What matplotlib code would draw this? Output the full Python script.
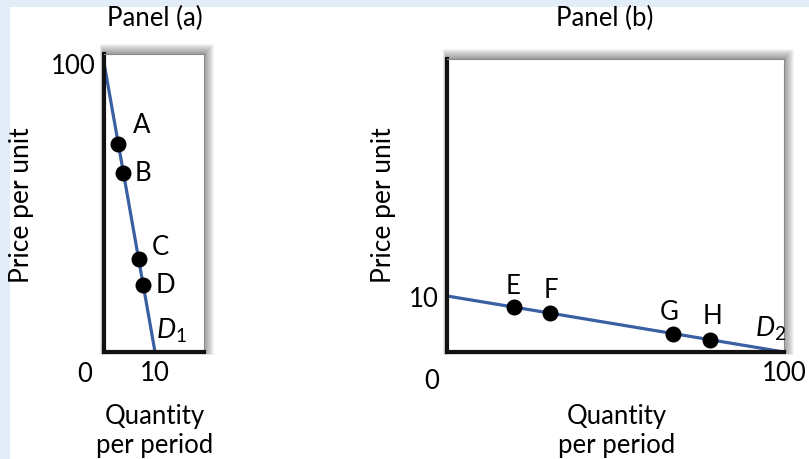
import matplotlib
matplotlib.use("Agg")
import matplotlib.pyplot as plt
from matplotlib.patches import Rectangle

plt.rcParams["font.family"] = ["Lato", "DejaVu Sans"]
plt.rcParams["mathtext.fontset"] = "custom"
plt.rcParams["mathtext.it"] = "Lato:italic"
plt.rcParams["mathtext.rm"] = "Lato"

# Panel (a): steep demand curve D1
qty_a = [0, 10]
price_a = [100, 0]
pts_a_labels = ["A", "B", "C", "D"]
pts_a_q = [2.8, 3.8, 6.8, 7.7]
pts_a_p = [72, 62, 32, 23]

# Panel (b): flat demand curve D2
qty_b = [0, 100]
price_b = [10, 0]
pts_b_labels = ["E", "F", "G", "H"]
pts_b_q = [20, 30.5, 67, 78]
pts_b_p = [8.0, 6.95, 3.3, 2.2]

LINE_BLUE = "#3a5fa2"
BG = "#e2edf7"
FS = 18.5
W, H = 809, 460

fig = plt.figure(figsize=(W / 100, H / 100), dpi=100, facecolor=BG)
fig.patches.append(Rectangle((10 / W, 0), 1, 1 - 8 / H, transform=fig.transFigure,
                             facecolor="white", edgecolor="none", zorder=-10))


def ftext(x, y, s, size=FS, **kw):
    # place text by pixel position from the top-left corner
    fig.text(x / W, 1 - y / H, s, fontsize=size, ha="center", va="center", **kw)


def shadow(ax):
    # soft grey glow around the top and right edges of the panel
    x0, y0, w, h = ax.get_position().bounds
    for i in range(10):
        d = i + 1
        fig.patches.append(Rectangle((x0 - 0.4 * d / W, y0 - 0.3 * d / H),
                                     w + 1.4 * d / W, h + 1.3 * d / H,
                                     transform=fig.transFigure, facecolor="black",
                                     edgecolor="none", alpha=0.045, zorder=-5))


def style(ax):
    ax.set_facecolor("white")
    for s in ["top", "right"]:
        ax.spines[s].set_color("#8a8a8a")
        ax.spines[s].set_linewidth(0.8)
    for s in ["left", "bottom"]:
        ax.spines[s].set_color("#111111")
        ax.spines[s].set_linewidth(3)
    ax.tick_params(length=0, labelsize=FS, pad=6)


# ---- Panel (a)
ax1 = fig.add_axes([104 / W, 107 / H, 100 / W, 298 / H])
shadow(ax1)
style(ax1)
ax1.set_xlim(0, 19.6)
ax1.set_ylim(0, 103)
ax1.plot(qty_a, price_a, color=LINE_BLUE, lw=2.3, solid_capstyle="butt", clip_on=False)
ax1.plot(pts_a_q, pts_a_p, "o", color="black", ms=10.5, zorder=5)
offs_a = [(2.8, 6.5), (2.2, 0), (2.5, 4.5), (2.4, 0.3)]
for lab, q, p, (dx, dy) in zip(pts_a_labels, pts_a_q, pts_a_p, offs_a):
    ax1.text(q + dx, p + dy, lab, fontsize=FS, ha="left", va="center")
ax1.text(13.2, 7.8, "$D_1$", fontsize=FS + 1, ha="center", va="center")
ax1.set_xticks([10])
ax1.set_xticklabels(["10"])
ax1.set_yticks([100])
ax1.set_yticklabels(["100"])
ax1.text(-3.8, -7.5, "0", fontsize=FS, ha="center", va="center")

# ---- Panel (b)
ax2 = fig.add_axes([447 / W, 107 / H, 337 / W, 293 / H])
shadow(ax2)
style(ax2)
ax2.set_xlim(0, 100)
ax2.set_ylim(0, 52.3)
ax2.plot(qty_b, price_b, color=LINE_BLUE, lw=2.3, solid_capstyle="butt", clip_on=False)
ax2.plot(pts_b_q, pts_b_p, "o", color="black", ms=10.5, zorder=5)
offs_b = [(-0.5, 3.9), (0.2, 4.2), (-1.0, 4.0), (0.8, 4.4)]
for lab, q, p, (dx, dy) in zip(pts_b_labels, pts_b_q, pts_b_p, offs_b):
    ax2.text(q + dx, p + dy, lab, fontsize=FS, ha="center", va="center")
ax2.text(96, 4.3, "$D_2$", fontsize=FS + 1, ha="center", va="center")
ax2.set_xticks([100])
ax2.set_xticklabels(["100"])
ax2.set_yticks([10])
ax2.set_yticklabels(["10"])
ax2.text(-4.5, -5.0, "0", fontsize=FS, ha="center", va="center")

# titles and axis labels
ftext(155, 18, "Panel (a)")
ftext(605, 18, "Panel (b)")
ftext(22, 205, "Price per unit", size=FS + 0.5, rotation=90)
ftext(383, 205, "Price per unit", size=FS + 0.5, rotation=90)
ftext(155, 431, "Quantity\nper period", linespacing=1.2)
ftext(617, 431, "Quantity\nper period", linespacing=1.2)

fig.savefig("out.png", dpi=100, facecolor=BG)
